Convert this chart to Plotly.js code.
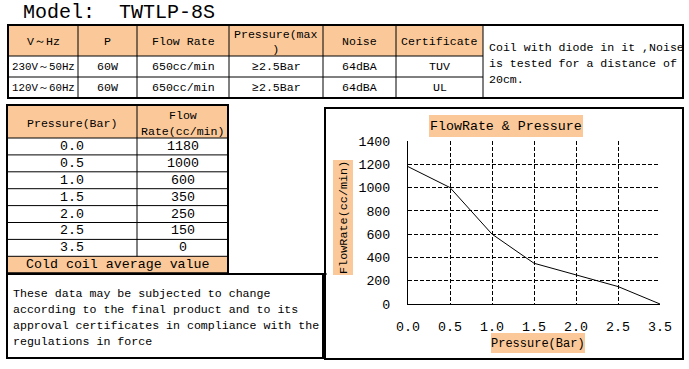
<!DOCTYPE html>
<html>
<head>
<meta charset="utf-8">
<script src="https://cdn.plot.ly/plotly-3.0.1.min.js"></script>
<style>html,body{margin:0;padding:0;background:#fff;}#chart{width:689px;height:369px;}</style>
</head>
<body>
<div id="chart"></div>
<script>
// ---------- data ----------
const modelTitle = "Model:  TWTLP-8S";
const topHeaders = ["V～Hz", "P", "Flow Rate", "Pressure(max<br>)", "Noise", "Certificate"];
const topRow1 = ["230V～50Hz", "60W", "650cc/min", "≥2.5Bar", "64dBA", "TUV"];
const topRow2 = ["120V～60Hz", "60W", "650cc/min", "≥2.5Bar", "64dBA", "UL"];
const coilNote = ["Coil with diode in it ,Noise", "is tested for a distance of", "20cm."];
const pressureHeader = ["Pressure(Bar)", "Flow", "Rate(cc/min)"];
const pressure = ["0.0", "0.5", "1.0", "1.5", "2.0", "2.5", "3.5"];
const flowRate = [1180, 1000, 600, 350, 250, 150, 0];
const tableFooter = "Cold coil average value";
const disclaimer = ["These data may be subjected to change", "according to the final product and to its", "approval certificates in compliance with the", "regulations in force"];
const chartTitle = "FlowRate & Pressure";
const xTitle = "Pressure(Bar)";
const yTitle = "FlowRate(cc/min)";
const yTicks = [0, 200, 400, 600, 800, 1000, 1200, 1400];

// ---------- layout constants (pixel grid of overlay axes) ----------
const W = 689, H = 369;
const ORANGE = "#FBC999";
const FONT = "Liberation Mono, DejaVu Sans Mono, monospace";
const topCols = [8, 78, 137, 229, 323, 396, 483];
const topRows = [25, 56, 77, 98];
const noteCell = [483, 683];
const pCols = [7, 137, 228];
const pTop = 105, pHeadBot = 138, pRowH = 16.9;
const noteBox = [7, 274, 323, 358];
const chartBox = [325, 108, 683, 359];
const plotPx = {x0: 408, x1: 660, y0: 304, y1: 141};

const shapes = [];
const ann = [];
function line(x0, y0, x1, y1, w) {
  shapes.push({type: "line", xref: "x2", yref: "y2", x0, y0, x1, y1, line: {color: "#000", width: w || 1}});
}
function rect(x0, y0, x1, y1, fill, w) {
  shapes.push({type: "rect", xref: "x2", yref: "y2", x0, y0, x1, y1, fillcolor: fill || "rgba(0,0,0,0)",
    line: {color: "#000", width: w === undefined ? 0 : w}, layer: "below"});
}
function txt(text, x, y, size, anchor, extra) {
  ann.push(Object.assign({xref: "x2", yref: "y2", x, y, text, showarrow: false,
    xanchor: anchor || "center", yanchor: "middle", align: anchor === "left" ? "left" : "center",
    font: {family: FONT, size: size, color: "#000"}}, extra || {}));
}

// page title
txt(modelTitle, 21, 12, 20, "left");

// ---- top table ----
rect(topCols[0], topRows[0], topCols[topCols.length - 1], topRows[1], ORANGE, 0);
for (let i = 1; i < topRows.length - 1; i++) line(topCols[0], topRows[i], topCols[topCols.length - 1], topRows[i], 1);
for (let i = 1; i < topCols.length - 1; i++) line(topCols[i], topRows[0], topCols[i], topRows[3], 1);
line(noteCell[0], topRows[0], noteCell[0], topRows[3], 1);
rect(topCols[0], topRows[0], noteCell[1], topRows[3], null, 2);
const topData = [topHeaders, topRow1, topRow2];
topData.forEach((row, r) => {
  const yc = (topRows[r] + topRows[r + 1]) / 2 + (r === 0 ? 1 : 0);
  row.forEach((t, c) => {
    const xc = (topCols[c] + topCols[c + 1]) / 2;
    const sz = (r > 0 && c === 0) ? 10.8 : 11.6;
    txt(t, xc, yc, sz);
  });
});
coilNote.forEach((t, i) => txt(t, noteCell[0] + 4, 47 + i * 16, 11.6, "left"));

// ---- pressure table ----
const nRows = pressure.length;
const pRowY = i => pHeadBot + i * pRowH;
const pBottom = pRowY(nRows + 1);
rect(pCols[0], pTop, pCols[2], pHeadBot, ORANGE, 0);
rect(pCols[0], pRowY(nRows), pCols[2], pBottom, ORANGE, 0);
line(pCols[0], pHeadBot, pCols[2], pHeadBot, 1);
for (let i = 1; i <= nRows; i++) line(pCols[0], pRowY(i), pCols[2], pRowY(i), 1);
line(pCols[1], pTop, pCols[1], pRowY(nRows), 1);
rect(pCols[0], pTop, pCols[2], pBottom, null, 2);
txt(pressureHeader[0], (pCols[0] + pCols[1]) / 2, 123, 11.6);
txt(pressureHeader[1], (pCols[1] + pCols[2]) / 2, 115, 11.6);
txt(pressureHeader[2], (pCols[1] + pCols[2]) / 2, 131, 11.6);
pressure.forEach((p, i) => {
  const yc = pRowY(i) + pRowH / 2;
  txt(p, (pCols[0] + pCols[1]) / 2, yc, 13.3);
  txt(String(flowRate[i]), (pCols[1] + pCols[2]) / 2, yc, 13.3);
});
txt(tableFooter, (pCols[0] + pCols[2]) / 2, pRowY(nRows) + pRowH / 2, 13.3);

// ---- disclaimer box ----
rect(noteBox[0], noteBox[1], noteBox[2], noteBox[3], null, 2);
line(noteBox[0], noteBox[1], chartBox[0] + 2, noteBox[1], 1);
disclaimer.forEach((t, i) => txt(t, 11, 293 + i * 16, 11.6, "left"));

// ---- chart box and labels ----
rect(chartBox[0], chartBox[1], chartBox[2], chartBox[3], null, 2);
rect(429, 115, 583, 137, ORANGE, 0);
txt(chartTitle, 506, 126.5, 13.3);
rect(333, 160, 353, 275, ORANGE, 0);
txt(yTitle, 343.5, 217.5, 11.8, "center", {textangle: -90});
rect(491, 333, 585, 353, ORANGE, 0);
txt(xTitle, 538, 343.5, 12);

const traces = [
  {type: "scatter", mode: "lines", x: pressure, y: flowRate, xaxis: "x", yaxis: "y",
   line: {color: "#000", width: 1}, hoverinfo: "skip", showlegend: false},
  {type: "scatter", mode: "markers", x: [], y: [], xaxis: "x2", yaxis: "y2", showlegend: false, hoverinfo: "skip"}
];

const axCommon = {
  showgrid: true, gridcolor: "#000", gridwidth: 1, griddash: "4px,2px",
  showline: true, linecolor: "#000", linewidth: 1, zeroline: false, ticks: "",
  tickfont: {family: FONT, size: 13.3, color: "#000"}, fixedrange: true
};
const layout = {
  width: W, height: H, margin: {l: 0, r: 0, t: 0, b: 0},
  paper_bgcolor: "#fff", plot_bgcolor: "rgba(0,0,0,0)", showlegend: false,
  xaxis: Object.assign({}, axCommon, {domain: [plotPx.x0 / W, plotPx.x1 / W], type: "category",
    categoryorder: "array", categoryarray: pressure, range: [0, pressure.length - 1],
    anchor: "y", ticklabelstandoff: 10}),
  yaxis: Object.assign({}, axCommon, {domain: [1 - plotPx.y0 / H, 1 - plotPx.y1 / H], range: [0, 1400],
    tickvals: yTicks, anchor: "x", ticklabelstandoff: 14}),
  xaxis2: {domain: [0, 1], range: [0, W], visible: false, anchor: "y2", fixedrange: true},
  yaxis2: {domain: [0, 1], range: [H, 0], visible: false, anchor: "x2", fixedrange: true},
  shapes: shapes, annotations: ann
};
Plotly.newPlot("chart", traces, layout, {staticPlot: true, displayModeBar: false});
</script>
</body>
</html>
